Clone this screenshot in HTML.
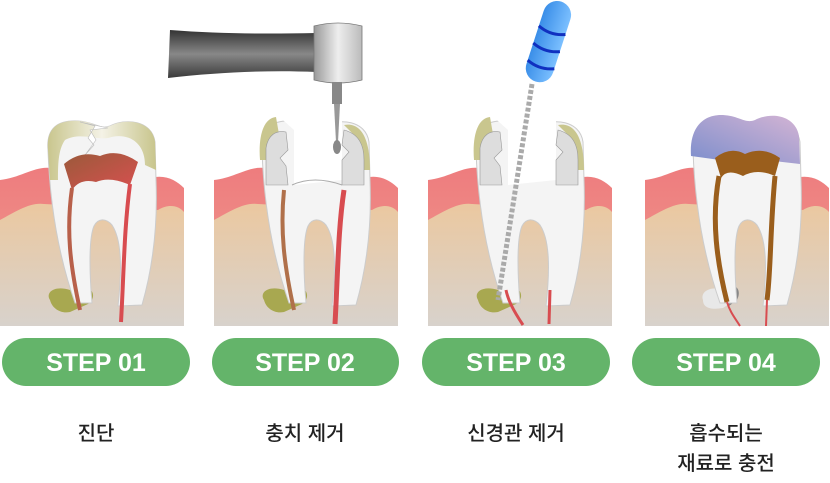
<!DOCTYPE html>
<html><head><meta charset="utf-8"><style>
html,body{margin:0;padding:0;background:#fff;width:830px;height:483px;overflow:hidden}
svg{display:block}
.b{font-family:"Liberation Sans",sans-serif;font-weight:bold;font-size:25px;fill:#fff}
.k{font-family:"Liberation Sans","Noto Sans CJK KR",sans-serif;font-size:20px;fill:#222;font-weight:500}
</style></head><body>
<svg width="830" height="483" viewBox="0 0 830 483" xmlns="http://www.w3.org/2000/svg">
<defs>
<linearGradient id="bg" x1="0" y1="0" x2="0" y2="1"><stop offset="0" stop-color="#ebc8a0"/><stop offset="1" stop-color="#d8d2cc"/></linearGradient>
<linearGradient id="pk" x1="0" y1="0" x2="0" y2="1"><stop offset="0" stop-color="#ee7c7e"/><stop offset="1" stop-color="#f0a090"/></linearGradient>
<linearGradient id="pulp" x1="0" y1="0" x2="1" y2="1"><stop offset="0" stop-color="#9a5a3a"/><stop offset="1" stop-color="#d85050"/></linearGradient>
<linearGradient id="en" x1="0" y1="0" x2="1" y2="0"><stop offset="0" stop-color="#c9c68e"/><stop offset=".5" stop-color="#f4f2e6"/><stop offset="1" stop-color="#c8c58c"/></linearGradient>
<linearGradient id="pur" x1="0" y1="1" x2="1" y2="0"><stop offset="0" stop-color="#7c8ecc"/><stop offset="1" stop-color="#d4b4d4"/></linearGradient>
<linearGradient id="dr" x1="0" y1="0" x2="0" y2="1"><stop offset="0" stop-color="#333"/><stop offset=".5" stop-color="#888"/><stop offset="1" stop-color="#3a3a3a"/></linearGradient>
<linearGradient id="hd" x1="0" y1="0" x2="1" y2="0"><stop offset="0" stop-color="#999"/><stop offset=".5" stop-color="#eee"/><stop offset="1" stop-color="#bbb"/></linearGradient>
<linearGradient id="bl" x1="0" y1="0" x2="1" y2="0"><stop offset="0" stop-color="#3a8ee8"/><stop offset="1" stop-color="#7cc0ff"/></linearGradient>
<g id="gum">
<path d="M0,180 C20,178 35,166 50,168 L150,178 C165,174 176,180 184,188 L184,326 L0,326Z" fill="url(#pk)"/>
<path d="M0,220 C15,212 30,202 44,204 L158,210 C168,204 178,205 184,212 L184,326 L0,326Z" fill="url(#bg)"/>
</g>
<path id="body" d="M48,150 C46,128 58,120 78,121 C95,122 100,130 110,126 C125,118 152,120 155,142 L156,180 C158,230 152,270 142,305 L118,306 C122,270 122,240 112,225 C106,218 98,218 94,226 C88,240 90,280 92,303 L75,303 C60,260 50,210 48,150Z"/>
</defs>

<!-- panel 1 -->
<g>
<use href="#gum"/>
<path d="M50,300 C45,292 55,285 70,290 L82,288 C95,286 96,300 88,304 L70,312 C60,314 52,308 50,300Z" fill="#a8a850"/>
<use href="#body" fill="#f4f4f4" stroke="#ccc" stroke-width="1"/>
<path d="M48,150 C46,128 58,120 78,121 C95,122 100,130 110,126 C125,118 152,120 155,142 L156,170 L145,165 C145,140 125,132 108,138 C95,140 80,132 65,140 C58,150 58,165 58,180 L50,180Z" fill="url(#en)"/>
<path d="M80,122 L95,126 L88,138 L94,145 L85,155 L96,140 L90,130 L108,128Z" fill="#fff" stroke="#bbb" stroke-width=".6"/>
<path d="M64,164 Q80,150 100,156 Q118,148 138,162 L130,185 Q110,176 96,182 Q80,178 72,190 Z" fill="url(#pulp)"/>
<path d="M72,188 C66,230 70,265 80,310" stroke="#b8604a" stroke-width="4" fill="none"/>
<path d="M130,184 C124,230 124,270 121,322" stroke="#d84c50" stroke-width="4" fill="none"/>
</g>

<!-- panel 2 -->
<g transform="translate(214,0)">
<use href="#gum"/>
<path d="M50,300 C45,292 55,285 70,290 L82,288 C95,286 96,300 88,304 L70,312 C60,314 52,308 50,300Z" fill="#a8a850"/>
<use href="#body" fill="#f4f4f4" stroke="#ccc" stroke-width="1"/>
<path d="M60,112 L80,130 L80,185 L128,180 L128,112Z" fill="#fff"/>
<path d="M78,185 Q100,175 128,185" stroke="#aaa" fill="none" stroke-width="1"/>
<path d="M46,160 C44,135 50,118 62,117 L66,140 L60,160Z" fill="#c9c68e"/>
<path d="M52,185 L52,148 C54,135 62,130 72,132 L74,150 L66,158 L72,166 L74,185Z" fill="#ddd" stroke="#999" stroke-width=".6"/>
<path d="M130,125 C145,122 156,135 156,170 L150,170 L145,140Z" fill="#c9c68e"/>
<path d="M128,185 L128,160 L135,152 L128,145 L130,130 C145,134 150,145 150,160 L150,185Z" fill="#ddd" stroke="#999" stroke-width=".6"/>
<path d="M70,190 C66,230 70,265 80,310" stroke="#b0704a" stroke-width="4" fill="none"/>
<path d="M130,190 C124,230 124,270 121,324" stroke="#d84c50" stroke-width="5" fill="none"/>
</g>
<!-- drill -->
<path d="M170,30 C220,34 270,34 316,33 L316,72 C270,70 220,72 168,78 Z" fill="url(#dr)"/>
<path d="M314,26 Q338,20 362,26 L362,80 Q338,86 314,80Z" fill="url(#hd)" stroke="#777" stroke-width=".8"/>
<rect x="332" y="82" width="10" height="22" fill="#888"/>
<path d="M334,104 L340,104 L338,142 L336,142Z" fill="#999"/>
<ellipse cx="337" cy="147" rx="4" ry="7" fill="#888"/>

<!-- panel 3 -->
<g transform="translate(428,0)">
<use href="#gum"/>
<path d="M50,300 C45,292 55,285 70,290 L82,288 C95,286 96,300 88,304 L70,312 C60,314 52,308 50,300Z" fill="#a8a850"/>
<use href="#body" fill="#f4f4f4" stroke="#ccc" stroke-width="1"/>
<path d="M60,112 L80,130 L80,185 L128,180 L128,112Z" fill="#fff"/>
<path d="M46,160 C44,135 50,118 62,117 L66,140 L60,160Z" fill="#c9c68e"/>
<path d="M52,185 L52,148 C54,135 62,130 72,132 L74,150 L66,158 L72,166 L74,185Z" fill="#ddd" stroke="#999" stroke-width=".6"/>
<path d="M130,125 C145,122 156,135 156,170 L150,170 L145,140Z" fill="#c9c68e"/>
<path d="M128,185 L128,160 L135,152 L128,145 L130,130 C145,134 150,145 150,160 L150,185Z" fill="#ddd" stroke="#999" stroke-width=".6"/>
<path d="M78,290 C80,300 85,310 95,325" stroke="#d84c50" stroke-width="3" fill="none"/>
<path d="M122,290 L121,324" stroke="#d84c50" stroke-width="3" fill="none"/>
</g>
<!-- file -->
<line x1="532" y1="84" x2="498" y2="300" stroke="#aaa" stroke-width="5" stroke-dasharray="4,2"/>
<g transform="rotate(18 550 40)">
<rect x="535" y="0" width="28" height="84" rx="14" fill="url(#bl)"/>
<path d="M535,30 Q549,36 563,30 M535,48 Q549,54 563,48 M535,66 Q549,72 563,66" stroke="#1030c0" stroke-width="3" fill="none"/>
</g>

<!-- panel 4 -->
<g transform="translate(645,0)">
<use href="#gum"/>
<path d="M58,300 C55,292 65,285 80,290 L82,284 C90,280 96,290 90,300 L78,308 C66,310 58,308 58,300Z" fill="#e8e8e8"/>
<path d="M80,288 C88,282 98,288 92,300 L84,306Z" fill="#888"/>
<use href="#body" fill="#f4f4f4" stroke="#ccc" stroke-width="1"/>
<path d="M46,156 C44,128 58,114 78,115 C95,116 100,124 110,120 C125,112 150,114 154,136 L155,164 L120,160 Q100,152 75,160 Z" fill="url(#pur)"/>
<path d="M70,158 Q85,146 100,154 Q118,146 135,158 L130,176 Q112,168 98,176 Q82,168 76,178 Z" fill="#9a5e1c"/>
<path d="M74,176 C66,220 72,262 82,302" stroke="#9a5e1c" stroke-width="5" fill="none"/>
<path d="M130,176 C125,230 126,270 122,300" stroke="#9a5e1c" stroke-width="5" fill="none"/>
<path d="M82,302 C85,312 90,318 95,326" stroke="#d84c50" stroke-width="2" fill="none"/>
<path d="M122,300 L121,326" stroke="#d84c50" stroke-width="2" fill="none"/>
</g>

<!-- buttons -->
<rect x="2" y="338" width="188" height="48" rx="24" fill="#64b46a"/>
<rect x="212" y="338" width="187" height="48" rx="24" fill="#64b46a"/>
<rect x="422" y="338" width="188" height="48" rx="24" fill="#64b46a"/>
<rect x="632" y="338" width="188" height="48" rx="24" fill="#64b46a"/>
<text class="b" x="96" y="371" text-anchor="middle">STEP 01</text>
<text class="b" x="305" y="371" text-anchor="middle">STEP 02</text>
<text class="b" x="516" y="371" text-anchor="middle">STEP 03</text>
<text class="b" x="726" y="371" text-anchor="middle">STEP 04</text>

<text class="k" x="96" y="440" text-anchor="middle">진단</text>
<text class="k" x="305" y="440" text-anchor="middle">충치 제거</text>
<text class="k" x="516" y="440" text-anchor="middle">신경관 제거</text>
<text class="k" x="726" y="440" text-anchor="middle">흡수되는</text>
<text class="k" x="726" y="470" text-anchor="middle">재료로 충전</text>
</svg>
</body></html>
